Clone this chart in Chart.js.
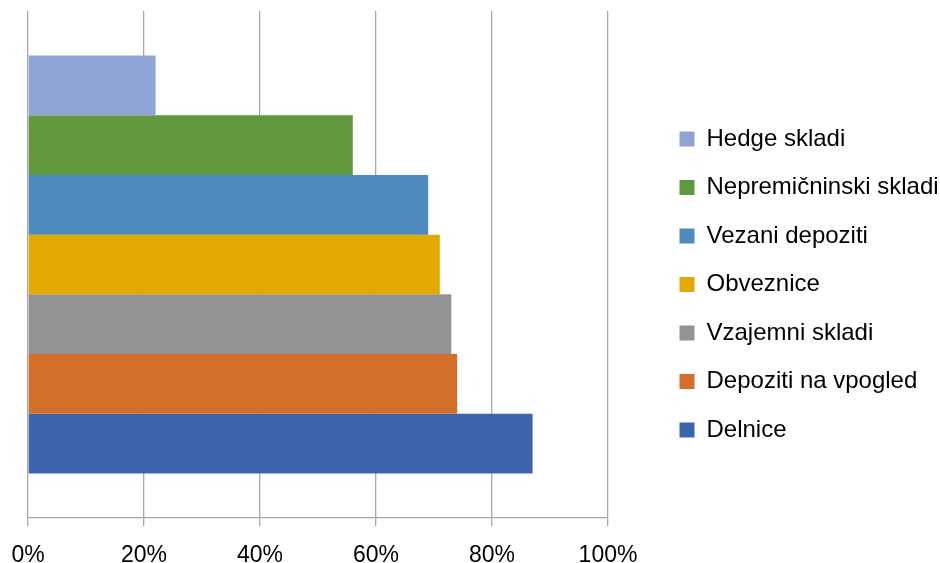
<!DOCTYPE html>
<html>
<head>
<meta charset="utf-8">
<script src="https://cdn.jsdelivr.net/npm/chart.js"></script>
<style>
  html, body { margin: 0; padding: 0; background: #fff; }
  #wrap { width: 940px; height: 563px; }
</style>
</head>
<body>
<div id="wrap"><canvas id="graf"></canvas></div>
<script>
// podatki
const kategorije = [''];
const nalozbe = ['Hedge skladi', 'Nepremičninski skladi', 'Vezani depoziti', 'Obveznice', 'Vzajemni skladi', 'Depoziti na vpogled', 'Delnice'];
const deleži = [22, 56, 69, 71, 73, 74, 87];
const xTicks = [0, 20, 40, 60, 80, 100];

const barve = ['#8FA3D5', '#62993E', '#4E8ABE', '#E2AA00', '#939393', '#D46F2A', '#3E64AD'];
const mreza = '#A8A8A8';
const pisava = 'Liberation Sans';

// legenda: sirina fiksna, elementi zamaknjeni desno
const legendaPremik = {
  id: 'legendaPremik',
  beforeInit(chart) {
    const fit = chart.legend.fit;
    chart.legend.fit = function () {
      fit.call(this);
      this.width = 940 - 608;
    };
  },
  afterLayout(chart) {
    chart.legend.left += 47;
    chart.legend.top = 3;
    chart.legend.bottom = 566;
  }
};

new Chart(document.getElementById('graf'), {
  type: 'bar',
  data: {
    labels: kategorije,
    datasets: nalozbe.map((ime, i) => ({
      label: ime,
      data: [deleži[i]],
      backgroundColor: barve[i],
      borderWidth: 0
    }))
  },
  options: {
    indexAxis: 'y',
    responsive: true,
    maintainAspectRatio: false,
    animation: false,
    datasets: {
      bar: { barPercentage: 1, categoryPercentage: 0.8245 }
    },
    layout: { padding: { top: 11, left: 28, right: 0, bottom: -22 } },
    scales: {
      x: {
        min: 0,
        max: 100,
        afterBuildTicks(axis) { axis.ticks = xTicks.map(v => ({ value: v })); },
        afterFit(axis) { axis.paddingLeft = 0; axis.paddingRight = 0; },
        grid: { color: mreza, lineWidth: 1.3, tickLength: 8, drawTicks: true },
        border: { color: mreza, width: 1.3 },
        ticks: {
          color: '#000',
          padding: 18,
          maxRotation: 0,
          font: { family: pisava, size: 23, lineHeight: 1 },
          callback: v => v + '%'
        }
      },
      y: {
        display: false
      }
    },
    plugins: {
      legend: {
        position: 'right',
        align: 'center',
        labels: {
          color: '#000',
          boxWidth: 15,
          boxHeight: 15,
          padding: 24.5,
          font: { family: pisava, size: 24 }
        }
      },
      tooltip: { enabled: false }
    }
  },
  plugins: [legendaPremik]
});
</script>
</body>
</html>
